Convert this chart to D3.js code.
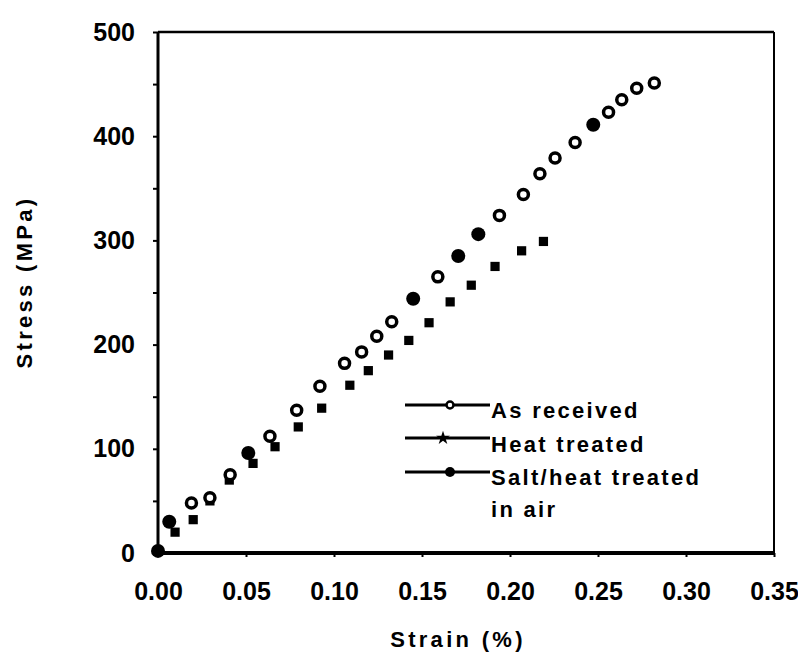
<!DOCTYPE html>
<meta charset="utf-8">
<style>
  body{margin:0;background:#fff;}
  svg{position:absolute;top:0;left:0;}
  text{font-family:'Liberation Sans',Arial,sans-serif;font-weight:bold;fill:#000;}
  .axis .tick text{font-size:25px;}
  .axis line{stroke:#000;stroke-width:2px;}
  .axis path{display:none;}
  .legend text{font-size:22px;letter-spacing:2.3px;}
  .title{font-size:22px;letter-spacing:3.3px;}
</style>
<script src="https://d3js.org/d3.v7.min.js"></script>

<svg width="798" height="652"></svg>

<script>
  // As received (open circles)
  var arStrain = [0.019, 0.0295, 0.041, 0.0636, 0.0788, 0.092, 0.106, 0.1157, 0.1243, 0.1328, 0.159, 0.194, 0.2076, 0.217, 0.2256, 0.237, 0.256, 0.2635, 0.272, 0.282];
  var arStress = [48, 53, 75, 112, 137, 160, 182, 193, 208, 222, 265, 324, 344, 364, 379, 394, 423, 435, 446, 451];

  // Heat treated (star, printed as small squares)
  var htStrain = [0, 0.0097, 0.020, 0.0295, 0.0405, 0.054, 0.0665, 0.0797, 0.093, 0.109, 0.1195, 0.131, 0.1425, 0.154, 0.166, 0.178, 0.1915, 0.2066, 0.219];
  var htStress = [2, 20, 32, 50, 70, 86, 102, 121, 139, 161, 175, 190, 204, 221, 241, 257, 275, 290, 299];

  // Salt/heat treated in air (filled circles)
  var shStrain = [0, 0.0064, 0.0513, 0.145, 0.1706, 0.182, 0.2473];
  var shStress = [2, 30, 96, 244, 285, 306, 411];

  var xTicks = [0, 0.05, 0.10, 0.15, 0.20, 0.25, 0.30, 0.35];
  var yTicks = [0, 50, 100, 150, 200, 250, 300, 350, 400, 450, 500];
  var legendNames = ["As received", "Heat treated", "Salt/heat treated", "in air"];

  var svg = d3.select("svg");

  var x = d3.scaleLinear().domain([0, 0.35]).range([158, 774]);
  var y = d3.scaleLinear().domain([0, 500]).range([553, 32]);

  // frame
  svg.append("line").attr("x1", x(0)).attr("x2", x(0.35)).attr("y1", y(500)).attr("y2", y(500))
    .attr("stroke", "#000").attr("stroke-width", 2.5);
  svg.append("line").attr("x1", x(0.35)).attr("x2", x(0.35)).attr("y1", y(500)).attr("y2", y(0))
    .attr("stroke", "#000").attr("stroke-width", 2);
  svg.append("line").attr("x1", x(0)).attr("x2", x(0)).attr("y1", y(500)).attr("y2", y(0))
    .attr("stroke", "#000").attr("stroke-width", 3);
  svg.append("line").attr("x1", x(0) - 1.5).attr("x2", x(0.35) + 1).attr("y1", y(0)).attr("y2", y(0))
    .attr("stroke", "#000").attr("stroke-width", 4);

  var yAxis = d3.axisLeft(y).tickValues(yTicks).tickSize(5).tickSizeOuter(0).tickPadding(18)
    .tickFormat(function(d) { return d % 100 === 0 ? d : ""; });
  svg.append("g").attr("class", "axis").attr("transform", "translate(" + x(0) + ",0)").call(yAxis);

  var xAxis = d3.axisBottom(x).tickValues(xTicks).tickSize(4).tickSizeOuter(0).tickPadding(25)
    .tickFormat(d3.format(".2f"));
  svg.append("g").attr("class", "axis").attr("transform", "translate(0," + y(0) + ")").call(xAxis);

  // titles
  svg.append("text").attr("class", "title").attr("x", 458).attr("y", 647)
    .attr("text-anchor", "middle").text("Strain (%)");
  svg.append("text").attr("class", "title").attr("transform", "translate(32,282) rotate(-90)")
    .attr("text-anchor", "middle").text("Stress (MPa)");

  // heat treated
  svg.append("g").selectAll("path").data(htStrain).enter().append("path")
    .attr("d", d3.symbol().type(d3.symbolSquare).size(85))
    .attr("transform", function(d, i) { return "translate(" + x(d) + "," + y(htStress[i]) + ")"; })
    .attr("fill", "#000");

  // as received
  svg.append("g").selectAll("circle").data(arStrain).enter().append("circle")
    .attr("cx", function(d) { return x(d); })
    .attr("cy", function(d, i) { return y(arStress[i]); })
    .attr("r", 5)
    .attr("fill", "#fff").attr("stroke", "#000").attr("stroke-width", 3.5);

  // salt/heat treated
  svg.append("g").selectAll("circle").data(shStrain).enter().append("circle")
    .attr("cx", function(d) { return x(d); })
    .attr("cy", function(d, i) { return y(shStress[i]); })
    .attr("r", 7)
    .attr("fill", "#000");

  // legend
  var lg = svg.append("g").attr("class", "legend");
  var rowY = [405, 438, 472];
  rowY.forEach(function(ry) {
    lg.append("line").attr("x1", 405).attr("x2", 490).attr("y1", ry).attr("y2", ry)
      .attr("stroke", "#000").attr("stroke-width", 3);
  });
  lg.append("circle").attr("cx", 450).attr("cy", rowY[0]).attr("r", 3.5)
    .attr("fill", "#fff").attr("stroke", "#000").attr("stroke-width", 2.5);
  lg.append("path").attr("d", d3.symbol().type(d3.symbolStar).size(60))
    .attr("transform", "translate(443," + rowY[1] + ")").attr("fill", "#000");
  lg.append("circle").attr("cx", 450).attr("cy", rowY[2]).attr("r", 5).attr("fill", "#000");
  var textY = [418, 452, 485, 517];
  legendNames.forEach(function(n, i) {
    lg.append("text").attr("x", 491).attr("y", textY[i]).text(n);
  });
</script>
